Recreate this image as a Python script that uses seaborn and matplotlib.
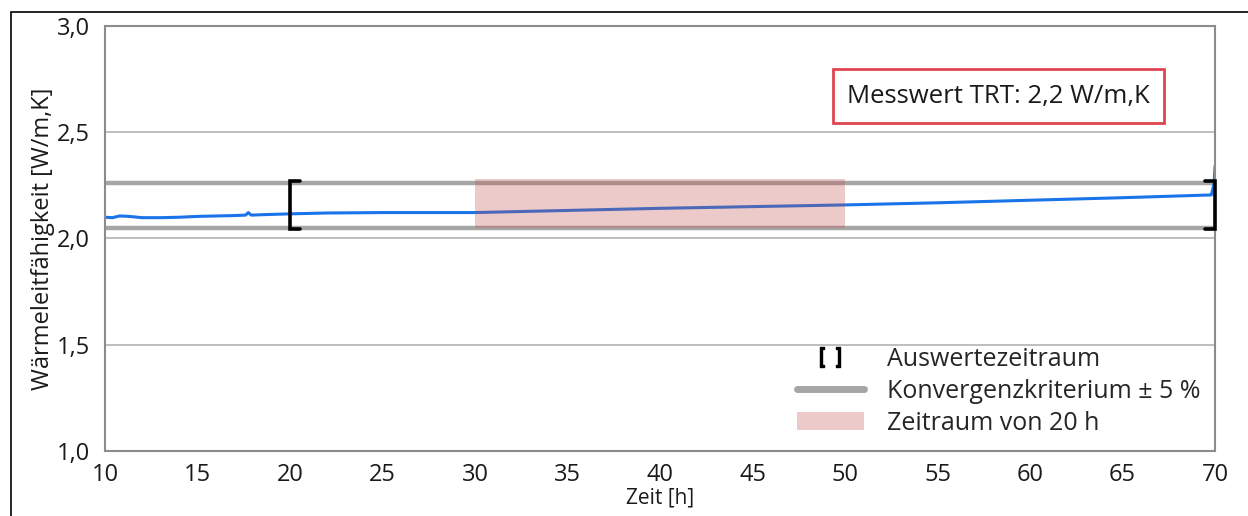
import numpy as np
import pandas as pd
import matplotlib
matplotlib.use("Agg")
import matplotlib.pyplot as plt
from matplotlib.lines import Line2D
from matplotlib.patches import Patch, Rectangle
import seaborn as sns

zeit = [10.0, 10.4, 10.8, 11.3, 12.0, 13.0, 14.0, 15.0, 16.0, 17.0, 17.6, 17.75, 17.9,
        18.5, 20.0, 22.0, 25.0, 28.0, 30.0, 35.0, 40.0, 45.0, 50.0, 55.0, 60.0, 65.0,
        69.8, 69.95, 70.0]
lambda_eff = [2.100, 2.098, 2.106, 2.104, 2.098, 2.098, 2.100, 2.104, 2.106, 2.108, 2.110,
              2.122, 2.110, 2.112, 2.116, 2.120, 2.122, 2.122, 2.122, 2.132, 2.142, 2.150,
              2.158, 2.168, 2.180, 2.192, 2.205, 2.260, 2.340]

konv_mitte = 2.155
konv_prozent = 5
auswerte_start, auswerte_ende = 20, 70
zeitraum_start, zeitraum_ende = 30, 50
messwert_text = "Messwert TRT: 2,2 W/m,K"

df = pd.DataFrame({"Zeit": zeit, "Lambda": lambda_eff})
konv_lo = konv_mitte * (1 - konv_prozent / 100)
konv_hi = konv_mitte * (1 + konv_prozent / 100)

sns.set_style("white")
plt.rcParams['font.family'] = ['Open Sans', 'DejaVu Sans']

grau = "#a6a6a6"
spine_grau = "#8c8c8c"
pink = "#c0504d"
blau = "#1a73e8"
txt = "#1a1a1a"

fig = plt.figure(figsize=(12.48, 5.16), dpi=100)
ax = fig.add_axes([0.0841, 0.126, 0.8895, 0.8236])

# äußerer Rahmen
fig.patches.append(Rectangle((11 / 1248, -0.1), 1.2, 1.1 - 12 / 516, transform=fig.transFigure,
                             fill=False, edgecolor="black", lw=1.2))

for y in [1.5, 2.0, 2.5]:
    ax.axhline(y, color="#b3b3b3", lw=1.2, zorder=0)

ax.axhline(konv_hi, color=grau, lw=3.2, zorder=1)
ax.axhline(konv_lo, color=grau, lw=3.2, zorder=1)

sns.lineplot(data=df, x="Zeit", y="Lambda", ax=ax, color=blau, lw=2.2, zorder=2)

ax.axvspan(zeitraum_start, zeitraum_ende, ymin=(konv_lo - 1) / 2, ymax=(konv_hi + 0.015 - 1) / 2,
           color=pink, alpha=0.3, lw=0, zorder=3)

# Klammern Auswertezeitraum
arm = 0.55
bl, bh = konv_lo - 0.003, konv_hi + 0.008
ax.plot([auswerte_start + arm, auswerte_start, auswerte_start, auswerte_start + arm],
        [bh, bh, bl, bl], color="black", lw=2.6, zorder=4, solid_joinstyle="miter")
ax.plot([auswerte_ende - arm, auswerte_ende, auswerte_ende, auswerte_ende - arm],
        [bh, bh, bl, bl], color="black", lw=2.6, zorder=4, solid_joinstyle="miter", clip_on=False)

ax.text(58.27, 2.67, messwert_text, ha="center", va="center", fontsize=18.5, color=txt,
        bbox=dict(boxstyle="square,pad=0.55", fc="white", ec="#e04550", lw=2))

ax.set_xlim(10, 70)
ax.set_ylim(1.0, 3.0)
ax.set_xticks(np.arange(10, 71, 5))
ax.set_yticks(np.arange(1.0, 3.01, 0.5))
ax.set_yticklabels([f"{v:.1f}".replace(".", ",") for v in np.arange(1.0, 3.01, 0.5)])
ax.tick_params(axis="both", direction="out", length=5, width=1.2, color=spine_grau,
               labelsize=17, labelcolor=txt)
ax.tick_params(axis="x", pad=4)
ax.tick_params(axis="y", pad=6)
for s in ax.spines.values():
    s.set_color(spine_grau)
    s.set_linewidth(1.5)

ax.set_xlabel("Zeit [h]", fontsize=15, color=txt, labelpad=0)
ax.set_ylabel("Wärmeleitfähigkeit [W/m,K]", fontsize=17, color=txt, labelpad=1)

handles = [
    Line2D([], [], ls="none", marker=r"$[\,\,]$", color="black", markersize=15),
    Line2D([], [], color=grau, lw=5),
    Patch(facecolor=pink, alpha=0.3, lw=0),
]
labels = ["Auswertezeitraum", f"Konvergenzkriterium ± {konv_prozent} %", "Zeitraum von 20 h"]
ax.legend(handles, labels, loc="lower right", bbox_to_anchor=(1.0, 0.0), frameon=False,
          fontsize=18, handlelength=2.7, handletextpad=0.9, labelspacing=0.28,
          borderaxespad=0.2)

fig.savefig("out.png", dpi=100)
